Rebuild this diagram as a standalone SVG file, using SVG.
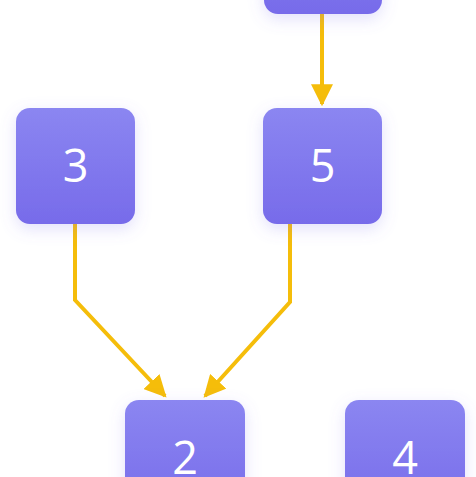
<svg xmlns="http://www.w3.org/2000/svg" width="476" height="477" viewBox="0 0 476 477">
<defs>
<linearGradient id="g" x1="0" y1="0" x2="0" y2="1">
<stop offset="0" stop-color="#8b86f1"/>
<stop offset="1" stop-color="#776bea"/>
</linearGradient>
<filter id="sh" x="-30%" y="-30%" width="160%" height="160%">
<feGaussianBlur in="SourceAlpha" stdDeviation="8" result="b"/>
<feOffset dy="5" result="o"/>
<feFlood flood-color="#7b70ee" flood-opacity="0.22"/>
<feComposite in2="o" operator="in"/>
<feMerge><feMergeNode/><feMergeNode in="SourceGraphic"/></feMerge>
</filter>
<marker id="ah" viewBox="0 0 10 10" refX="9" refY="5" markerWidth="5.5" markerHeight="5.5" markerUnits="strokeWidth" orient="auto">
<path d="M0,0 L10,5 L0,10 z" fill="#f5bd0a"/>
</marker>
</defs>
<style>
.n rect{fill:url(#g);filter:url(#sh)}
.n text{fill:#fff;font-family:"Open Sans","Noto Sans",sans-serif;font-size:45px;text-anchor:middle}
.e{fill:none;stroke:#f5bd0a;stroke-width:4;marker-end:url(#ah)}
</style>
<rect width="476" height="477" fill="#ffffff"/>
<g id="connectors">
<path class="e" d="M322,14 V104"/>
<path class="e" d="M75,224 V300 L165,396"/>
<path class="e" d="M290,224 V302 L205,396"/>
</g>
<g id="node-top" class="n"><rect x="264" y="-102" width="118" height="116" rx="14"/></g>
<g id="node-3" class="n"><rect x="16" y="108" width="119" height="116" rx="14"/><text x="75.5" y="182">3</text></g>
<g id="node-5" class="n"><rect x="263" y="108" width="119" height="116" rx="14"/><text x="322.5" y="182">5</text></g>
<g id="node-2" class="n"><rect x="125" y="400" width="120" height="116" rx="14"/><text x="185" y="474">2</text></g>
<g id="node-4" class="n"><rect x="345" y="400" width="120" height="116" rx="14"/><text x="405" y="474">4</text></g>
</svg>
